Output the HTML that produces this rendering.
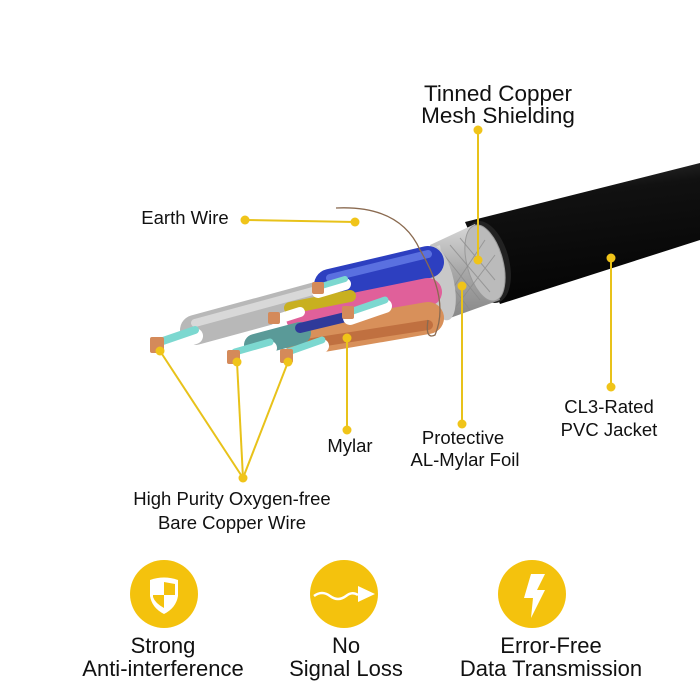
<!DOCTYPE html>
<html><head><style>
html,body{margin:0;padding:0;background:#fff;}
svg{display:block;font-family:"Liberation Sans",sans-serif;}
</style></head><body>
<svg width="700" height="700" viewBox="0 0 700 700">
<defs>
<linearGradient id="jk" x1="0" y1="0" x2="0.2" y2="1"><stop offset="0" stop-color="#3a3a3a"/><stop offset="0.3" stop-color="#111"/><stop offset="1" stop-color="#050505"/></linearGradient>
<linearGradient id="mesh" x1="0" y1="0" x2="0" y2="1"><stop offset="0" stop-color="#d8d8d8"/><stop offset="0.5" stop-color="#a8a8a8"/><stop offset="1" stop-color="#888"/></linearGradient>
</defs>
<path d="M465 222 L700 163 L700 240 L500 304 Z" fill="url(#jk)"/>
<ellipse cx="487" cy="262" rx="22" ry="42" transform="rotate(-15 487 262)" fill="#222"/>
<path d="M430 245 L475 224 L500 300 L450 318 Z" fill="url(#mesh)"/>
<ellipse cx="485" cy="263" rx="18" ry="39" transform="rotate(-15 485 263)" fill="#bbb" stroke="#999" stroke-width="1"/>
<g stroke="#888" stroke-width="1" opacity="0.7">
<path d="M440 250 L480 300 M450 245 L490 292 M460 238 L495 280 M440 270 L470 310 M445 300 L485 240 M455 308 L495 255"/>
</g>
<path d="M400 260 L440 245 L450 318 L420 325 Z" fill="#d6d6d6"/>
<ellipse cx="440" cy="283" rx="14" ry="38" transform="rotate(-12 440 283)" fill="#c8c8c8"/>
<g stroke-linecap="round">
<line x1="195" y1="330" x2="335" y2="292" stroke="#b8b8b8" stroke-width="30"/>
<line x1="195" y1="323" x2="335" y2="285" stroke="#d8d8d8" stroke-width="8"/>
<line x1="330" y1="285" x2="428" y2="262" stroke="#2d3fc0" stroke-width="32"/>
<line x1="330" y1="278" x2="428" y2="254" stroke="#5a70e0" stroke-width="8"/>
<line x1="300" y1="318" x2="428" y2="292" stroke="#e0609a" stroke-width="28"/>
<line x1="290" y1="308" x2="350" y2="296" stroke="#c8b020" stroke-width="12"/>
<line x1="300" y1="340" x2="428" y2="318" stroke="#d8905a" stroke-width="32"/>
<line x1="300" y1="345" x2="428" y2="325" stroke="#c07040" stroke-width="10"/>
<line x1="255" y1="345" x2="300" y2="333" stroke="#5a9a98" stroke-width="22"/>
<line x1="300" y1="328" x2="350" y2="316" stroke="#2f3a9a" stroke-width="10"/>
</g>
<g stroke-linecap="round">
<line x1="160" y1="348" x2="195" y2="336" stroke="#fff" stroke-width="16"/>
<line x1="160" y1="342" x2="195" y2="330" stroke="#7cd8d0" stroke-width="8"/>
<line x1="235" y1="358" x2="270" y2="348" stroke="#fff" stroke-width="14"/>
<line x1="235" y1="352" x2="270" y2="342" stroke="#7cd8d0" stroke-width="7"/>
<line x1="288" y1="358" x2="322" y2="346" stroke="#fff" stroke-width="14"/>
<line x1="288" y1="352" x2="322" y2="340" stroke="#7cd8d0" stroke-width="7"/>
<line x1="318" y1="292" x2="345" y2="284" stroke="#fff" stroke-width="12"/>
<line x1="318" y1="287" x2="345" y2="279" stroke="#7cd8d0" stroke-width="6"/>
<line x1="350" y1="318" x2="385" y2="306" stroke="#fff" stroke-width="14"/>
<line x1="350" y1="312" x2="385" y2="300" stroke="#7cd8d0" stroke-width="7"/>
<line x1="275" y1="320" x2="300" y2="312" stroke="#fff" stroke-width="10"/>
</g>
<g fill="#d48a5a">
<rect x="150" y="337" width="14" height="16" rx="2"/>
<rect x="227" y="350" width="13" height="14" rx="2"/>
<rect x="280" y="349" width="13" height="14" rx="2"/>
<rect x="312" y="282" width="12" height="12" rx="2"/>
<rect x="342" y="306" width="12" height="13" rx="2"/>
<rect x="268" y="312" width="12" height="12" rx="2"/>
</g>
<path d="M336 208 Q400 205 420 250 Q450 300 435 335 Q425 340 428 320" fill="none" stroke="#8a6a50" stroke-width="1.3"/>
<g stroke="#e8c21a" stroke-width="2" fill="none">
<line x1="245" y1="220" x2="355" y2="222"/>
<line x1="478" y1="130" x2="478" y2="260"/>
<line x1="611" y1="258" x2="611" y2="387"/>
<line x1="462" y1="286" x2="462" y2="424"/>
<line x1="347" y1="338" x2="347" y2="430"/>
<line x1="160" y1="351" x2="243" y2="478"/>
<line x1="237" y1="362" x2="243" y2="478"/>
<line x1="288" y1="362" x2="243" y2="478"/>
</g>
<g fill="#f0c419">
<circle cx="245" cy="220" r="4.5"/><circle cx="355" cy="222" r="4.5"/>
<circle cx="478" cy="130" r="4.5"/><circle cx="478" cy="260" r="4.5"/>
<circle cx="611" cy="258" r="4.5"/><circle cx="611" cy="387" r="4.5"/>
<circle cx="462" cy="286" r="4.5"/><circle cx="462" cy="424" r="4.5"/>
<circle cx="347" cy="338" r="4.5"/><circle cx="347" cy="430" r="4.5"/>
<circle cx="160" cy="351" r="4.5"/><circle cx="237" cy="362" r="4.5"/><circle cx="288" cy="362" r="4.5"/>
<circle cx="243" cy="478" r="4.5"/>
</g>
<g fill="#111" font-size="22.5" text-anchor="middle">
<text x="498" y="101">Tinned Copper</text>
<text x="498" y="123">Mesh Shielding</text>
</g>
<g fill="#111" font-size="18.5" text-anchor="middle">
<text x="185" y="224">Earth Wire</text>
<text x="609" y="413">CL3-Rated</text>
<text x="609" y="436">PVC Jacket</text>
<text x="463" y="444">Protective</text>
<text x="465" y="466">AL-Mylar Foil</text>
<text x="350" y="452">Mylar</text>
<text x="232" y="505">High Purity Oxygen-free</text>
<text x="232" y="529">Bare Copper Wire</text>
</g>
<circle cx="164" cy="594" r="34" fill="#f4c20d"/>
<path d="M150 580 Q164 575 178 580 L178 596 Q176 608 164 614 Q152 608 150 596 Z" fill="#fff"/>
<path d="M164 582 L175 584 L175 595 L164 595 Z M153 595 L164 595 L164 608 Q155 603 153 597 Z" fill="#f4c20d"/>
<circle cx="344" cy="594" r="34" fill="#f4c20d"/>
<path d="M314 596 Q322 590 330 596 Q338 602 346 596 Q352 591 358 595" fill="none" stroke="#fff" stroke-width="2.5"/>
<path d="M358 586 L375 594 L358 602 Z" fill="#fff"/>
<circle cx="532" cy="594" r="34" fill="#f4c20d"/>
<path d="M531 574 L545 574 L537 590 L545 590 L531 618 L533 598 L524 598 Z" fill="#fff"/>
<g fill="#111" font-size="22" text-anchor="middle">
<text x="163" y="653">Strong</text>
<text x="163" y="676">Anti-interference</text>
<text x="346" y="653">No</text>
<text x="346" y="676">Signal Loss</text>
<text x="551" y="653">Error-Free</text>
<text x="551" y="676">Data Transmission</text>
</g>
</svg>
</body></html>
